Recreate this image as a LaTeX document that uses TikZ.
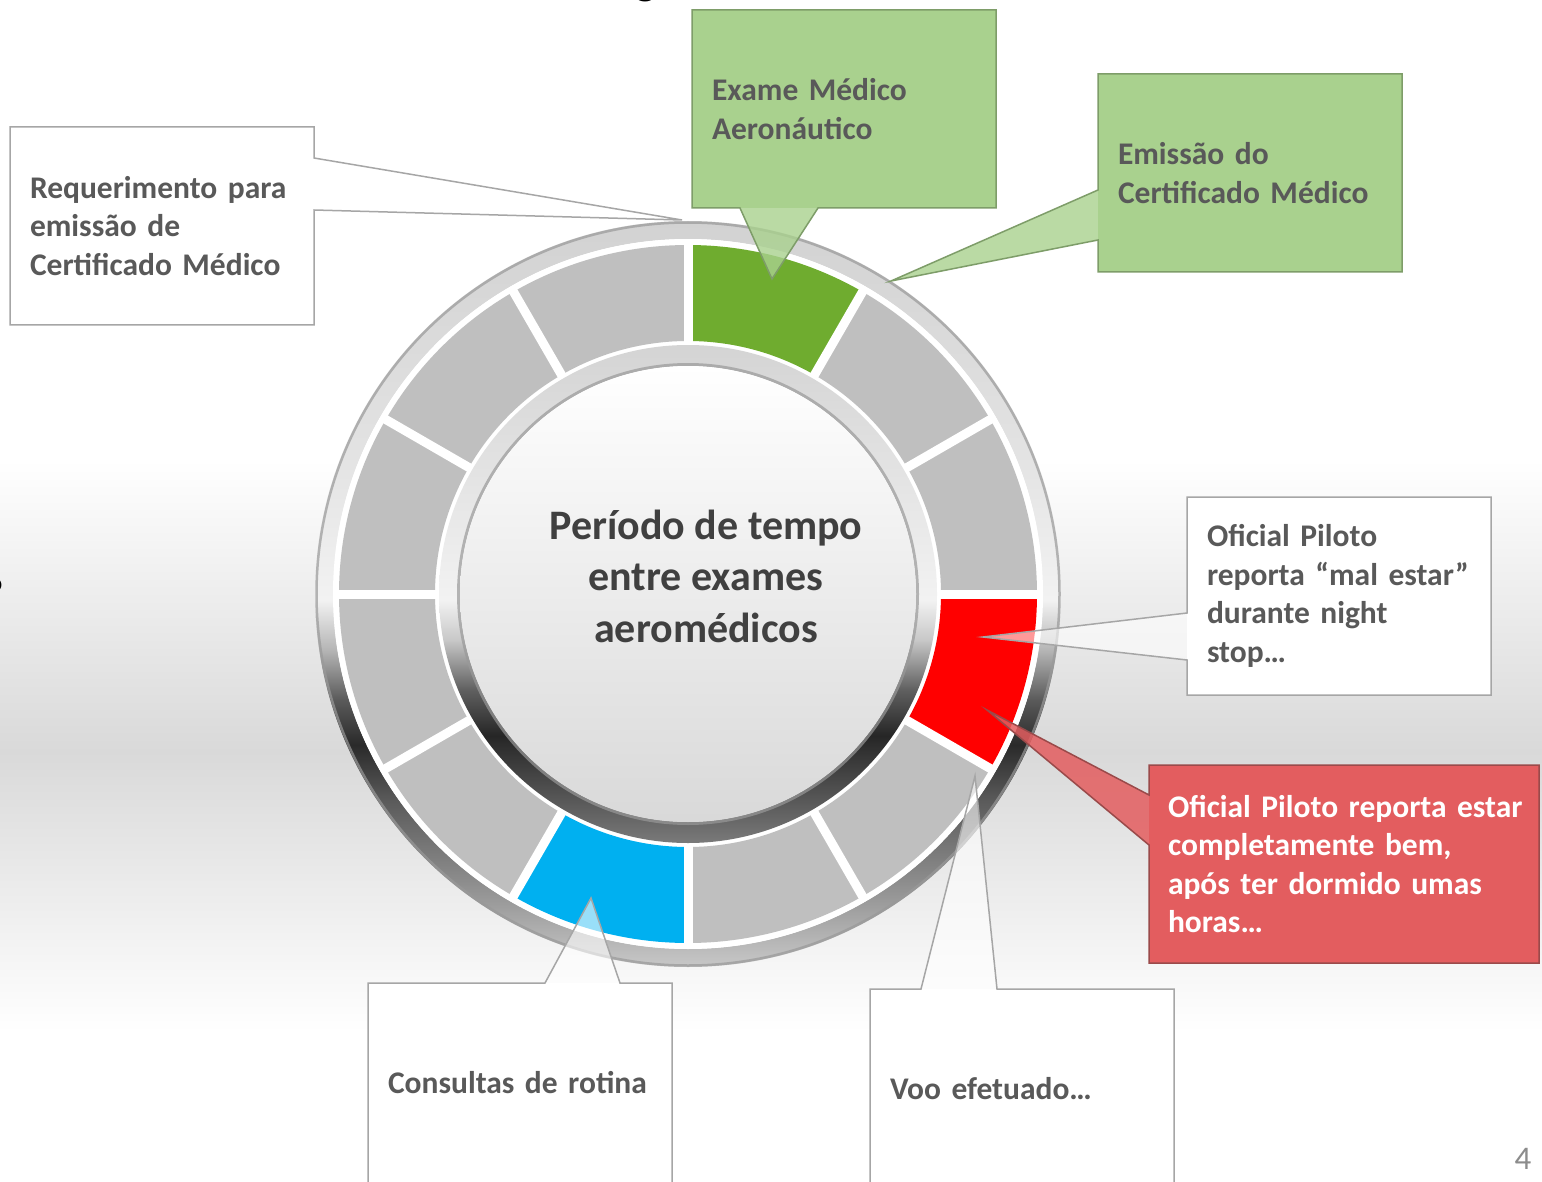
\documentclass[tikz,border=0pt]{standalone}
\usepackage{fontspec}
\setmainfont{Carlito}
\usetikzlibrary{calc}
\definecolor{txt}{HTML}{595959}
\definecolor{ctxt}{HTML}{404040}
\definecolor{bord}{HTML}{A6A6A6}
\definecolor{segg}{HTML}{BFBFBF}
\definecolor{seggreen}{HTML}{6FAC2F}
\definecolor{segred}{HTML}{FF0000}
\definecolor{segblue}{HTML}{00B0F0}
\definecolor{lgreen}{HTML}{A9D18E}
\definecolor{gborder}{HTML}{7E9D69}
\definecolor{rbox}{HTML}{E35D5F}
\definecolor{rborder}{HTML}{9A4A4A}
\definecolor{bgmid}{HTML}{D9D9D9}
\definecolor{obA}{HTML}{C8C8C8}
\definecolor{obB}{HTML}{8C8C8C}
\definecolor{obC}{HTML}{5A5A5A}
\definecolor{obD}{HTML}{2A2A2A}
\definecolor{obE}{HTML}{5A5A5A}
\definecolor{obF}{HTML}{B4B4B4}
\definecolor{obG}{HTML}{F2F2F2}
\definecolor{obH}{HTML}{E2E2E2}
\definecolor{obI}{HTML}{D2D2D2}
\definecolor{ibA}{HTML}{7A7A7A}
\definecolor{ibB}{HTML}{505050}
\definecolor{ibC}{HTML}{262626}
\definecolor{ibD}{HTML}{606060}
\definecolor{ibE}{HTML}{C8C8C8}
\definecolor{ibF}{HTML}{F2F2F2}
\definecolor{ibG}{HTML}{D4D4D4}
\pgfdeclareverticalshading{outerband}{100bp}{color(0bp)=(obA); color(25bp)=(obA); color(30.8bp)=(obB); color(36.2bp)=(obC); color(39.9bp)=(obD); color(42.9bp)=(obE); color(46.2bp)=(obF); color(49.6bp)=(obG); color(60bp)=(obH); color(75bp)=(obI); color(100bp)=(obI)}
\pgfdeclareverticalshading{innerband}{100bp}{color(0bp)=(ibA); color(25bp)=(ibA); color(30.3bp)=(ibB); color(35.8bp)=(ibC); color(40.4bp)=(ibD); color(45.4bp)=(ibE); color(49.4bp)=(ibF); color(75bp)=(ibG); color(100bp)=(ibG)}
\tikzset{
  callbox/.style={rectangle, fill=white, text width=264pt, inner xsep=20pt, inner ysep=0pt,
    minimum height=198pt, align=left, anchor=north west, outer sep=0pt, text=txt,
    font=\fontsize{31.5}{38.5}\selectfont\bfseries},
  greenbox/.style={callbox, fill=lgreen},
  redbox/.style={callbox, fill=rbox, text=white, text width=352pt, inner xsep=19pt},
  whiteline/.style={draw=bord, line width=1.5pt},
  greenline/.style={draw=gborder, line width=1.5pt},
  redline/.style={draw=rborder, line width=1.5pt},
  whitetip/.style={fill=white, fill opacity=0.6},
  greentip/.style={fill=lgreen, fill opacity=0.8},
  redtip/.style={fill=rbox, fill opacity=0.85},
  gapline/.style={draw=white, line width=9pt},
}
\begin{document}
\begin{tikzpicture}[x=1pt,y=-1pt]
\useasboundingbox (0,0) rectangle (1542,1182);
% background
\fill[white] (0,0) rectangle (1542,1182);
\shade[top color=white,bottom color=bgmid] (0,460) rectangle (1542,752);
\shade[top color=bgmid,bottom color=white] (0,751) rectangle (1542,1032);
% clipped fragments of slide text
\node[font=\fontsize{44}{50}\selectfont\bfseries, anchor=base, inner sep=0pt] (fragg) at (646,-5) {g};
\node[font=\fontsize{44}{50}\selectfont\bfseries, anchor=base east, inner sep=0pt] (fragq) at (4,608) {?};
% ring
\coordinate (c) at (688,594);
\shade[even odd rule, shading=outerband] (c) circle[radius=373pt] (c) circle[radius=355pt];
\draw[black!40, line width=2.5pt, opacity=0.7] (c) circle[radius=371.5pt];
\fill[white] (c) circle[radius=355pt];
\foreach \a/\col in {90/seggreen, 60/segg, 30/segg, 0/segred, -30/segg, -60/segg, -90/segblue, -120/segg, -150/segg, -180/segg, -210/segg, -240/segg} {
  \fill[\col] ($(c)+(\a:349pt)$) arc[start angle=\a, end angle=\a-30, radius=349pt]
    -- ($(c)+(\a-30:253pt)$) arc[start angle=\a-30, end angle=\a, radius=253pt] -- cycle;
}
\foreach \a in {0,30,...,330} {
  \draw[gapline] ($(c)+(\a:250pt)$) -- ($(c)+(\a:353pt)$);
}
\shade[even odd rule, shading=innerband] (c) circle[radius=249pt] (c) circle[radius=228pt];
\draw[black!40, line width=3pt, opacity=0.7] (c) circle[radius=229.5pt];
\shade[top color=white, bottom color=black!15] (c) circle[radius=228pt];
\node[font=\fontsize{42}{51.5}\selectfont\bfseries, text=ctxt, align=center] (ctr) at (706,576)
  {Período de tempo\\entre exames\\aeromédicos};
% callout: Requerimento
\node[callbox] (req) at (10,127) {Requerimento para\\emissão de\\Certificado Médico};
\coordinate (treq) at (682,220);
\fill[whitetip] ($(req.north east)+(0,31)$) -- (treq) -- ($(req.north east)+(0,83)$) -- cycle;
\draw[whiteline] (req.north west) -- (req.north east) -- ($(req.north east)+(0,31)$) -- (treq)
  -- ($(req.north east)+(0,83)$) -- (req.south east) -- (req.south west) -- cycle;
% callout: Exame
\node[greenbox] (exam) at (692,10) {Exame Médico\\Aeronáutico};
\coordinate (texam) at (772,279);
\fill[greentip] ($(exam.south west)+(126,0)$) -- (texam) -- ($(exam.south west)+(48,0)$) -- cycle;
\draw[greenline] (exam.north west) -- (exam.north east) -- (exam.south east) -- ($(exam.south west)+(126,0)$)
  -- (texam) -- ($(exam.south west)+(48,0)$) -- (exam.south west) -- cycle;
% callout: Emissao
\node[greenbox] (emis) at (1098,74) {Emissão do\\Certificado Médico};
\coordinate (temis) at (891,281);
\fill[greentip] ($(emis.north west)+(0,116)$) -- (temis) -- ($(emis.north west)+(0,166)$) -- cycle;
\draw[greenline] (emis.north west) -- (emis.north east) -- (emis.south east) -- (emis.south west)
  -- ($(emis.north west)+(0,166)$) -- (temis) -- ($(emis.north west)+(0,116)$) -- cycle;
% callout: mal estar
\node[callbox] (mal) at (1187,497) {Oficial Piloto\\reporta “mal estar”\\durante night\\stop…};
\coordinate (tmal) at (983,637);
\fill[whitetip] ($(mal.north west)+(0,116)$) -- (tmal) -- ($(mal.north west)+(0,163)$) -- cycle;
\draw[whiteline] (mal.north west) -- (mal.north east) -- (mal.south east) -- (mal.south west)
  -- ($(mal.north west)+(0,163)$) -- (tmal) -- ($(mal.north west)+(0,116)$) -- cycle;
% callout: red
\node[redbox] (bem) at (1149,765) {\mbox{Oficial Piloto reporta estar}\\completamente bem,\\após ter dormido umas\\horas…};
\coordinate (tbem) at (987,710);
\fill[redtip] ($(bem.north west)+(0,30)$) -- (tbem) -- ($(bem.north west)+(0,80)$) -- cycle;
\draw[redline] (bem.north west) -- (bem.north east) -- (bem.south east) -- (bem.south west)
  -- ($(bem.north west)+(0,80)$) -- (tbem) -- ($(bem.north west)+(0,30)$) -- cycle;
% callout: Consultas
\node[callbox, minimum height=200pt] (cons) at (368,983) {Consultas de rotina};
\coordinate (tcons) at (591,898);
\fill[whitetip] ($(cons.north west)+(177,0)$) -- (tcons) -- ($(cons.north west)+(252,0)$) -- cycle;
\draw[whiteline] (cons.north west) -- ($(cons.north west)+(177,0)$) -- (tcons) -- ($(cons.north west)+(252,0)$)
  -- (cons.north east) -- (cons.south east) -- (cons.south west) -- cycle;
% callout: Voo
\node[callbox, minimum height=200pt] (voo) at (870,989) {Voo efetuado…};
\coordinate (tvoo) at (975,776);
\fill[whitetip] ($(voo.north west)+(51,0)$) -- (tvoo) -- ($(voo.north west)+(127,0)$) -- cycle;
\draw[whiteline] (voo.north west) -- ($(voo.north west)+(51,0)$) -- (tvoo) -- ($(voo.north west)+(127,0)$)
  -- (voo.north east) -- (voo.south east) -- (voo.south west) -- cycle;
% page number
\node[text=black!45, font=\fontsize{33}{40}\selectfont] (pgnum) at (1523,1159) {4};
\end{tikzpicture}
\end{document}
